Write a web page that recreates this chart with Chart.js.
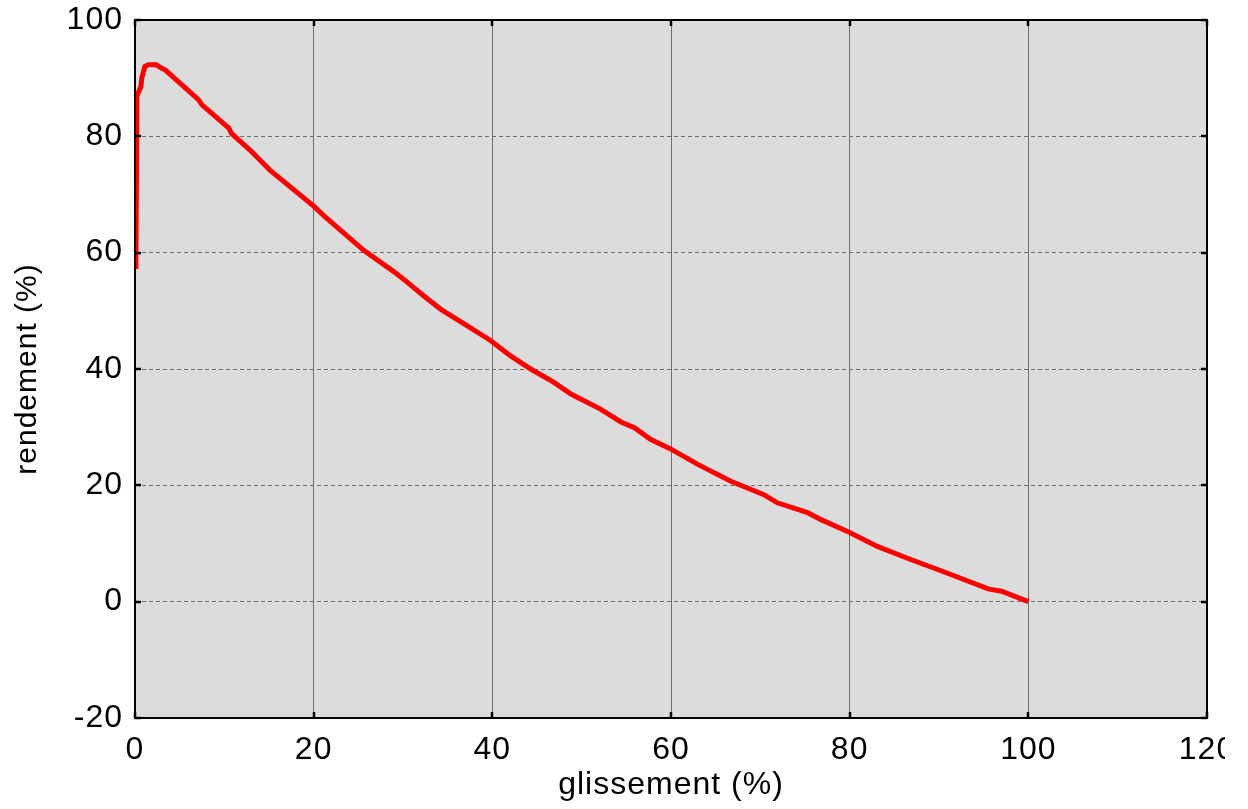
<!DOCTYPE html>
<html>
<head>
<meta charset="utf-8">
<script src="https://cdn.jsdelivr.net/npm/chart.js@4/dist/chart.umd.min.js"></script>
<style>
  html, body { margin: 0; padding: 0; background: #ffffff; }
  #wrap { width: 1248px; height: 809px; position: relative; background: #fff; }
  canvas { position: absolute; left: 0; top: 0; }
</style>
</head>
<body>
<div id="wrap"><canvas id="c" width="1225" height="809"></canvas></div>
<script>
// Data
const slipPct = [0.1, 0.2, 0.67, 0.75, 1.1, 1.5, 2.4, 3.0, 3.4, 7.1, 7.5, 10.5, 10.8, 12.9, 14.2, 15.1, 20.0, 21.1, 25.6, 29.0, 30.5, 32.3, 34.2, 36.8, 39.8, 42.0, 44.3, 46.9, 48.8, 52.1, 54.4, 55.9, 57.7, 59.9, 63.0, 66.7, 70.4, 71.9, 75.3, 76.8, 80.0, 83.1, 86.9, 90.6, 95.5, 97.0, 100.0];
const efficiencyPct = [57.2, 86.9, 88.6, 90.0, 92.0, 92.3, 92.3, 91.7, 91.4, 86.3, 85.4, 81.4, 80.5, 77.6, 75.6, 74.2, 68.0, 66.4, 60.4, 56.7, 54.9, 52.6, 50.3, 47.8, 44.9, 42.3, 40.0, 37.7, 35.7, 33.1, 30.9, 29.9, 27.9, 26.3, 23.6, 20.7, 18.4, 17.0, 15.3, 14.1, 11.9, 9.5, 7.2, 5.1, 2.2, 1.8, 0.0];
const xTicks = [0, 20, 40, 60, 80, 100, 120];
const yTicks = [-20, 0, 20, 40, 60, 80, 100];
const xTitle = 'glissement (%)';
const yTitle = 'rendement (%)';

const points = slipPct.map((x, i) => ({ x: x, y: efficiencyPct[i] }));
const FONT = '"Liberation Sans", Arial, sans-serif';

const framePlugin = {
  id: 'frame',
  beforeDraw(chart) {
    const { ctx, chartArea: a } = chart;
    ctx.letterSpacing = '1px';
    ctx.save();
    ctx.fillStyle = '#dcdcdc';
    ctx.fillRect(a.left, a.top, a.right - a.left, a.bottom - a.top);
    ctx.restore();
  },
  afterDatasetsDraw(chart) {
    const { ctx, chartArea: a, scales } = chart;
    ctx.save();
    ctx.strokeStyle = '#000';
    ctx.lineWidth = 2;
    ctx.strokeRect(a.left, a.top, a.right - a.left, a.bottom - a.top);
    ctx.lineWidth = 2.5;
    const L = 6;
    ctx.beginPath();
    scales.y.ticks.forEach(t => {
      const p = Math.round(scales.y.getPixelForValue(t.value));
      ctx.moveTo(a.left, p); ctx.lineTo(a.left + L, p);
      ctx.moveTo(a.right, p); ctx.lineTo(a.right - L, p);
    });
    scales.x.ticks.forEach(t => {
      const p = Math.round(scales.x.getPixelForValue(t.value));
      ctx.moveTo(p, a.bottom); ctx.lineTo(p, a.bottom - L);
      ctx.moveTo(p, a.top); ctx.lineTo(p, a.top + L);
    });
    ctx.stroke();
    ctx.restore();
  }
};

new Chart(document.getElementById('c'), {
  type: 'line',
  data: {
    datasets: [{
      data: points,
      borderColor: '#ff0000',
      borderWidth: 5,
      pointRadius: 0,
      tension: 0,
      fill: false
    }]
  },
  options: {
    responsive: false,
    animation: false,
    layout: { padding: { top: 20, right: 18, left: 0, bottom: 0 } },
    plugins: { legend: { display: false }, tooltip: { enabled: false } },
    scales: {
      x: {
        type: 'linear',
        min: 0, max: 120,
        afterBuildTicks(s) { s.ticks = xTicks.map(v => ({ value: v })); },
        afterFit(s) { s.height = 91; s.paddingLeft = 0; s.paddingRight = 0; },
        ticks: { color: '#000', font: { family: FONT, size: 32 }, padding: 13, maxRotation: 0, autoSkip: false },
        grid: { color: '#6e6e6e', lineWidth: 1, drawTicks: false },
        border: { display: false },
        title: { display: true, text: xTitle, color: '#000', font: { family: FONT, size: 32 }, padding: { top: 2, bottom: 5 } }
      },
      y: {
        type: 'linear',
        min: -20, max: 100,
        afterBuildTicks(s) { s.ticks = yTicks.map(v => ({ value: v })); },
        afterFit(s) { s.width = 135; s.paddingTop = 0; s.paddingBottom = 0; },
        ticks: { color: '#000', font: { family: FONT, size: 32 }, padding: 12, autoSkip: false },
        grid: { color: '#6e6e6e', lineWidth: 1, drawTicks: false },
        border: { display: false, dash: [4, 3] },
        title: { display: true, text: yTitle, color: '#000', font: { family: FONT, size: 30 }, padding: { top: 10, bottom: 0 } }
      }
    }
  },
  plugins: [framePlugin]
});
</script>
</body>
</html>
